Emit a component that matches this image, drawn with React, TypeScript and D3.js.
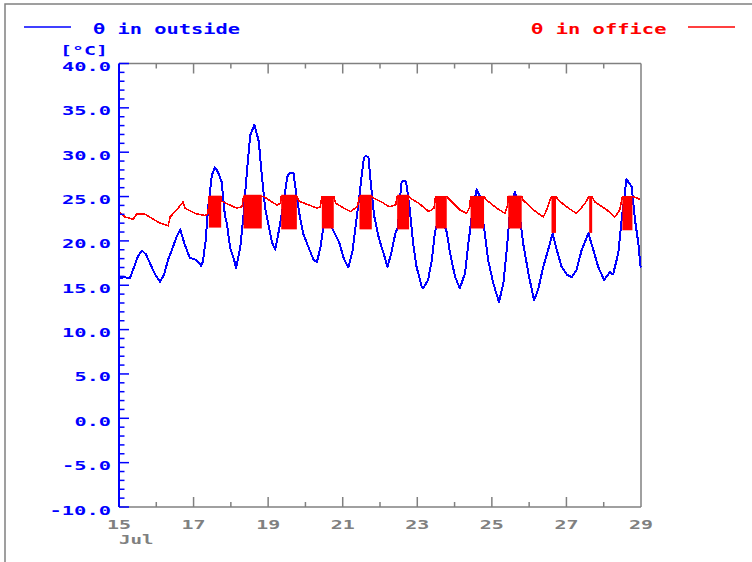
import React from "react";
import * as d3 from "d3";

// Outdoor temperature, July 15 – 29 (day of month, °C)
const outsideDays = [
  15.0, 15.16, 15.29, 15.4, 15.51, 15.62, 15.72, 15.83, 15.97, 16.1, 16.21, 16.31, 16.42, 16.53, 16.64,
  16.77, 16.9, 17.08, 17.2, 17.25, 17.32, 17.39, 17.49, 17.57, 17.65, 17.75, 17.84, 17.9, 17.98, 18.08,
  18.14, 18.25, 18.34, 18.43, 18.52, 18.63, 18.75, 18.83, 18.92, 19.01, 19.1, 19.19, 19.28, 19.42, 19.51,
  19.56, 19.68, 19.77, 19.86, 19.95, 20.09, 20.22, 20.31, 20.4, 20.49, 20.6, 20.72, 20.9, 21.03, 21.15,
  21.26, 21.35, 21.44, 21.52, 21.57, 21.62, 21.69, 21.75, 21.84, 21.97, 22.11, 22.2, 22.29, 22.42, 22.48,
  22.54, 22.58, 22.7, 22.8, 22.89, 22.98, 23.12, 23.16, 23.29, 23.39, 23.47, 23.6, 23.79, 23.88, 24.01,
  24.14, 24.28, 24.37, 24.46, 24.59, 24.68, 24.81, 24.9, 25.04, 25.19, 25.31, 25.4, 25.49, 25.62, 25.75,
  25.84, 25.98, 26.13, 26.24, 26.38, 26.51, 26.63, 26.74, 26.87, 27.01, 27.14, 27.27, 27.41, 27.59, 27.72,
  27.85, 28.01, 28.17, 28.25, 28.39, 28.48, 28.61, 28.75, 28.84, 28.93, 28.99,
];
const outsideTemp = [
  15.8, 15.9, 15.8, 17.0, 18.3, 18.9, 18.5, 17.5, 16.2, 15.4, 16.2, 17.8, 19.0, 20.3, 21.3,
  19.5, 18.1, 17.85, 17.2, 17.65, 19.9, 23.7, 27.4, 28.3, 27.8, 26.7, 22.9, 21.8, 19.2, 18.0,
  16.9, 19.2, 22.9, 27.8, 31.9, 33.1, 31.2, 27.4, 23.7, 21.8, 19.9, 19.0, 21.0, 24.4, 27.2,
  27.6, 27.6, 24.8, 22.5, 20.7, 19.2, 17.85, 17.65, 19.2, 21.8, 23.4, 21.4, 19.9, 18.0, 17.0,
  18.8, 21.8, 24.8, 27.8, 29.4, 29.6, 29.4, 26.7, 22.9, 20.3, 18.4, 17.1, 18.4, 21.0, 21.5,
  25.0, 26.7, 26.7, 23.5, 19.7, 17.1, 14.8, 14.65, 15.6, 17.85, 20.85, 23.2, 21.0, 18.6, 16.0,
  14.65, 16.35, 19.7, 22.7, 25.8, 25.0, 20.85, 17.85, 15.2, 13.1, 15.2, 19.0, 23.5, 25.55, 22.7,
  19.7, 16.35, 13.3, 14.5, 17.1, 19.0, 20.85, 19.0, 17.1, 16.2, 15.9, 16.7, 19.0, 20.85, 19.0,
  17.1, 15.6, 16.5, 16.2, 18.6, 22.35, 26.95, 26.1, 22.35, 19.7, 17.0,
];

// Office temperature (day of month, °C)
const officeDays = [
  15.0, 15.16, 15.38, 15.47, 15.7, 16.1, 16.32, 16.37, 16.55, 16.72, 16.77, 17.04, 17.31, 17.39, 17.41,
  17.74, 17.75, 17.94, 18.16, 18.3, 18.34, 18.83, 18.88, 19.06, 19.24, 19.33, 19.35, 19.77, 19.82, 20.09,
  20.31, 20.4, 20.44, 20.76, 20.81, 21.03, 21.21, 21.39, 21.45, 21.78, 21.84, 22.06, 22.24, 22.42, 22.46,
  22.78, 22.82, 23.04, 23.31, 23.45, 23.49, 23.79, 23.88, 24.14, 24.32, 24.41, 24.43, 24.79, 24.86, 25.13,
  25.35, 25.42, 25.44, 25.8, 25.84, 26.11, 26.38, 26.47, 26.56, 26.6, 26.72, 26.78, 27.05, 27.27, 27.36,
  27.5, 27.59, 27.61, 27.69, 27.76, 28.08, 28.3, 28.43, 28.5, 28.77, 28.79, 28.97,
];
const officeTemp = [
  23.3, 22.7, 22.45, 23.0, 23.0, 22.0, 21.7, 22.7, 23.5, 24.4, 23.7, 23.1, 22.85, 23.1, 25.0,
  25.0, 24.5, 24.1, 23.7, 23.85, 25.0, 25.0, 25.0, 24.5, 24.05, 24.25, 25.0, 25.0, 24.5, 24.05,
  23.7, 23.85, 25.0, 25.0, 24.25, 23.7, 23.3, 23.85, 25.0, 25.0, 24.8, 24.35, 23.85, 24.05, 25.0,
  25.0, 24.8, 24.25, 23.3, 23.7, 25.0, 25.0, 24.6, 23.5, 23.1, 23.85, 25.0, 25.0, 24.6, 23.7,
  23.1, 24.05, 25.0, 25.0, 24.6, 23.5, 22.7, 23.5, 24.6, 25.0, 25.0, 24.6, 23.7, 23.1, 23.5,
  24.25, 24.9, 25.0, 25.0, 24.4, 23.5, 22.7, 23.5, 25.0, 25.0, 25.0, 24.7,
];

// Office working-hours control bands: rapid swings between low and high
const bandStart = [17.41, 18.34, 19.35, 20.44, 21.45, 22.46, 23.49, 24.43, 25.44, 26.6, 27.61, 28.5];
const bandEnd = [17.74, 18.83, 19.77, 20.76, 21.78, 22.78, 23.79, 24.79, 25.8, 26.72, 27.69, 28.77];
const bandLow = [21.5, 21.4, 21.3, 21.4, 21.3, 21.3, 21.4, 21.4, 21.4, 20.9, 20.9, 21.2];
const bandHigh = [25.1, 25.2, 25.2, 25.0, 25.2, 25.2, 25.05, 25.05, 25.1, 25.0, 25.0, 25.05];

const yMajorTicks = [-10, -5, 0, 5, 10, 15, 20, 25, 30, 35, 40];
const xMajorTicks = [15, 17, 19, 21, 23, 25, 27, 29];
const xMinorTicks = [16, 18, 20, 22, 24, 26, 28];
const monthLabel = "Jul";
const outsideLabel = "θ in outside";
const officeLabel = "θ in office";
const unitLabel = "[°C]";

const BLUE = "#0000ff";
const RED = "#ff0000";
const GREY = "#808080";
const FONT = "'DejaVu Sans Mono', 'Liberation Mono', monospace";
const PITCH = 12.5;

const left = 119;
const right = 641;
const top = 63.5;
const bottom = 507;

export default function App() {
  const x = d3.scaleLinear().domain([15, 29]).range([left, right]);
  const y = d3.scaleLinear().domain([-10, 40]).range([bottom, top]);

  const line = d3
    .line<[number, number]>()
    .x((d) => x(d[0]))
    .y((d) => y(d[1]));

  const outsidePts = outsideDays.map((d, i) => [d, outsideTemp[i]] as [number, number]);
  const officePts = officeDays.map((d, i) => [d, officeTemp[i]] as [number, number]);
  const yMinor = d3.range(-10, 40.01, 1).filter((v) => !yMajorTicks.includes(v));

  const label = (s: string) => s.length * PITCH;

  return (
    <svg
      width={752}
      height={562}
      style={{ position: "absolute", left: 0, top: 0, background: "#fff" }}
      fontFamily={FONT}
    >
      {/* outer frame */}
      <rect x={5} y={4} width={800} height={600} fill="none" stroke={GREY} strokeWidth={1.5} />

      {/* legend */}
      <line x1={24} x2={71} y1={27} y2={27} stroke={BLUE} strokeWidth={1.5} />
      <text
        x={93}
        y={34}
        fill={BLUE}
        fontSize={13.5}
        fontWeight="bold"
        textLength={label(outsideLabel) - 3}
        lengthAdjust="spacingAndGlyphs"
      >
        {outsideLabel}
      </text>
      <text
        x={531}
        y={34}
        fill={RED}
        fontSize={13.5}
        fontWeight="bold"
        textLength={label(officeLabel) - 2}
        lengthAdjust="spacingAndGlyphs"
      >
        {officeLabel}
      </text>
      <line x1={688} x2={735} y1={27} y2={27} stroke={RED} strokeWidth={1.5} />

      {/* unit */}
      <text
        x={60}
        y={55}
        fill={BLUE}
        fontSize={12}
        fontWeight="bold"
        textLength={label(unitLabel) - 2}
        lengthAdjust="spacingAndGlyphs"
      >
        {unitLabel}
      </text>

      {/* plot frame (grey) */}
      <line x1={left} x2={right} y1={top} y2={top} stroke={GREY} strokeWidth={1.5} />
      <line x1={left} x2={right} y1={bottom} y2={bottom} stroke={GREY} strokeWidth={1.5} />
      <line x1={right} x2={right} y1={top} y2={bottom} stroke={GREY} strokeWidth={1.5} />

      {/* time ticks, top and bottom */}
      {xMajorTicks
        .filter((d) => d !== 15 && d !== 29)
        .map((d) => (
          <g key={"xm" + d} stroke={GREY} strokeWidth={1.5}>
            <line x1={x(d)} x2={x(d)} y1={top} y2={top + 10} />
            <line x1={x(d)} x2={x(d)} y1={bottom} y2={bottom - 10} />
          </g>
        ))}
      {xMinorTicks.map((d) => (
        <g key={"xn" + d} stroke={GREY} strokeWidth={1.5}>
          <line x1={x(d)} x2={x(d)} y1={top} y2={top + 5} />
          <line x1={x(d)} x2={x(d)} y1={bottom} y2={bottom - 5} />
        </g>
      ))}
      {xMajorTicks.map((d) => (
        <text
          key={"xl" + d}
          x={x(d)}
          y={529}
          fill={GREY}
          fontSize={12}
          fontWeight="bold"
          textAnchor="middle"
          textLength={label(String(d)) - 1}
          lengthAdjust="spacingAndGlyphs"
        >
          {d}
        </text>
      ))}
      <text
        x={119}
        y={544}
        fill={GREY}
        fontSize={12}
        fontWeight="bold"
        textLength={label(monthLabel) - 3}
        lengthAdjust="spacingAndGlyphs"
      >
        {monthLabel}
      </text>

      {/* outdoor series */}
      <path
        d={line(outsidePts) ?? ""}
        fill="none"
        stroke={BLUE}
        strokeWidth={2}
        strokeLinejoin="round"
        shapeRendering="crispEdges"
      />

      {/* office series */}
      <path
        d={line(officePts) ?? ""}
        fill="none"
        stroke={RED}
        strokeWidth={1.6}
        strokeLinejoin="round"
        shapeRendering="crispEdges"
      />
      {bandStart.map((s, i) => (
        <rect
          key={"b" + i}
          x={x(s)}
          y={y(bandHigh[i])}
          width={x(bandEnd[i]) - x(s)}
          height={y(bandLow[i]) - y(bandHigh[i])}
          fill={RED}
        />
      ))}

      {/* temperature axis (blue) */}
      <line x1={left} x2={left} y1={top} y2={bottom} stroke={BLUE} strokeWidth={2} />
      {yMinor.map((v) => (
        <line key={"yn" + v} x1={left} x2={left + 5.5} y1={y(v)} y2={y(v)} stroke={BLUE} strokeWidth={1.5} />
      ))}
      {yMajorTicks.map((v) => (
        <line key={"ym" + v} x1={left} x2={left + 10} y1={y(v)} y2={y(v)} stroke={BLUE} strokeWidth={1.5} />
      ))}
      {yMajorTicks.map((v) => {
        const s = v.toFixed(1);
        return (
          <text
            key={"yl" + v}
            x={111}
            y={y(v) + 7.5}
            fill={BLUE}
            fontSize={12}
            fontWeight="bold"
            textAnchor="end"
            textLength={label(s) - 1}
            lengthAdjust="spacingAndGlyphs"
          >
            {s}
          </text>
        );
      })}
    </svg>
  );
}
